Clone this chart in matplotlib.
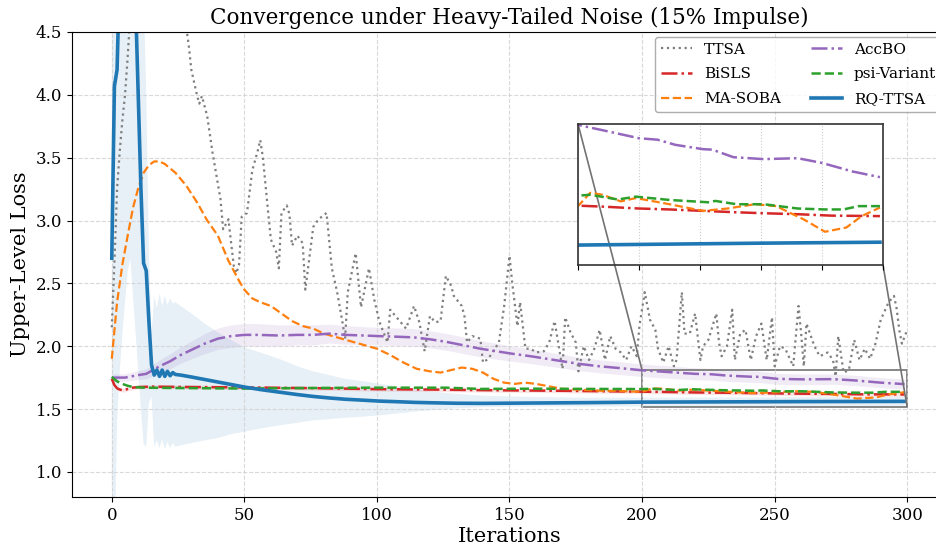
import numpy as np
import matplotlib
matplotlib.use("Agg")
import matplotlib.pyplot as plt
from mpl_toolkits.axes_grid1.inset_locator import mark_inset

plt.rcParams['font.family'] = ['DejaVu Serif']

# ---------------- data ----------------
ttsa_x = [0, 1, 2, 3, 4, 5, 6, 7, 8, 10, 14, 18, 22, 26, 28, 29, 30, 32, 33, 34, 36, 38, 41, 42, 44, 46, 47, 48, 49,
          51, 53, 55, 56, 57, 59, 60, 62, 63, 64, 66, 67, 68, 70, 72, 73, 76, 78, 81, 83, 85, 87, 88, 89, 92, 94,
          97, 99, 101, 104, 105, 107, 109, 111, 114, 116, 118, 120, 122, 124, 126, 128, 129, 132, 133, 134, 136,
          139, 140, 142, 146, 148, 150, 151, 153, 154, 156, 158, 160, 163, 165, 167, 170, 171, 173, 175, 176, 178,
          180, 182, 184, 186, 188, 190, 192, 194, 196, 198, 199, 201, 203, 205, 206, 208, 210, 212, 213, 215, 216,
          218, 220, 222, 223, 225, 228, 229, 230, 232, 234, 235, 237, 239, 241, 243, 245, 247, 249, 250, 252, 254,
          257, 259, 260, 261, 262, 265, 267, 270, 272, 273, 274, 276, 278, 280, 282, 284, 286, 288, 290, 293, 295,
          296, 297, 298, 300]
ttsa_y = [2.15, 2.67, 3.25, 3.55, 3.80, 4.00, 4.30, 4.65, 5.00, 5.40, 5.60, 5.50, 5.20, 4.80, 4.55, 4.40, 4.20,
          4.01, 3.93, 3.99, 3.83, 3.54, 3.17, 2.93, 3.01, 2.64, 2.58, 2.65, 3.03, 3.06, 3.40, 3.55, 3.64, 3.50,
          3.06, 2.85, 2.75, 2.62, 3.06, 3.12, 3.05, 2.80, 2.88, 2.82, 2.45, 2.95, 3.01, 3.06, 2.62, 2.43, 2.19,
          2.06, 2.43, 2.74, 2.31, 2.62, 2.37, 2.19, 2.03, 2.29, 2.24, 2.19, 2.14, 2.32, 2.19, 1.96, 2.24, 2.19,
          2.20, 2.56, 2.48, 2.40, 2.32, 2.24, 2.03, 2.08, 2.06, 1.87, 1.90, 2.03, 2.32, 2.72, 2.51, 2.16, 2.35,
          1.98, 1.98, 1.95, 1.96, 2.03, 2.20, 1.82, 2.23, 2.11, 2.03, 1.80, 2.00, 1.89, 1.98, 2.13, 1.89, 2.08,
          1.98, 1.95, 1.89, 2.00, 1.92, 2.16, 2.43, 2.21, 2.13, 1.98, 1.87, 2.00, 1.84, 1.89, 2.43, 2.10, 2.10,
          2.26, 1.89, 2.00, 2.05, 2.26, 2.03, 1.92, 2.00, 2.29, 1.89, 2.10, 2.13, 1.89, 2.08, 2.18, 1.89, 2.23,
          1.84, 2.00, 1.98, 1.84, 2.32, 2.10, 1.84, 2.18, 2.00, 1.92, 1.95, 1.89, 1.76, 2.08, 1.79, 1.81, 2.05,
          1.89, 1.98, 1.90, 2.02, 2.21, 2.35, 2.40, 2.30, 2.13, 2.02, 2.13]

bisls_x = [0, 1, 2, 3, 4, 5, 6, 8, 10, 15, 30, 50, 80, 100, 120, 140, 170, 200, 208, 220, 230, 241, 252, 261,
           272, 283, 299]
bisls_y = [1.74, 1.69, 1.665, 1.655, 1.65, 1.652, 1.66, 1.67, 1.675, 1.678, 1.675, 1.672, 1.665, 1.658, 1.655,
           1.65, 1.645, 1.638, 1.636, 1.632, 1.630, 1.627, 1.624, 1.622, 1.620, 1.617, 1.616]
bisls_band = 0.015

masoba_x = [0, 2, 4, 6, 8, 10, 12, 14, 16, 18, 20, 24, 28, 32, 36, 40, 44, 48, 50, 53, 56, 60, 64, 68, 72, 76,
            80, 85, 90, 95, 100, 105, 110, 115, 120, 124, 128, 132, 136, 140, 144, 148, 152, 156, 160, 165, 170,
            175, 180, 185, 190, 195, 200, 204, 208, 214, 219, 230, 241, 249, 258, 265, 274, 281, 288, 293, 299]
masoba_y = [1.90, 2.35, 2.65, 2.88, 3.10, 3.26, 3.38, 3.44, 3.47, 3.47, 3.45, 3.38, 3.28, 3.15, 3.00, 2.88, 2.68,
            2.52, 2.45, 2.38, 2.35, 2.32, 2.26, 2.20, 2.16, 2.14, 2.10, 2.07, 2.04, 2.01, 1.98, 1.93, 1.87, 1.82,
            1.80, 1.79, 1.81, 1.83, 1.82, 1.79, 1.74, 1.71, 1.70, 1.71, 1.70, 1.68, 1.66, 1.655, 1.65, 1.645,
            1.645, 1.64, 1.637, 1.665, 1.661, 1.647, 1.654, 1.641, 1.627, 1.632, 1.641, 1.637, 1.609, 1.583,
            1.592, 1.616, 1.634]

accbo_x = [0, 5, 10, 13, 18, 22, 26, 30, 35, 40, 45, 50, 55, 63, 70, 76, 82, 88, 95, 101, 108, 114, 120, 126,
           132, 139, 145, 151, 158, 164, 170, 176, 184, 192, 200, 208, 220, 226, 232, 241, 244, 251, 261, 272,
           280, 290, 299]
accbo_y = [1.75, 1.75, 1.77, 1.78, 1.84, 1.88, 1.93, 1.97, 2.02, 2.06, 2.08, 2.09, 2.09, 2.085, 2.09, 2.09, 2.10,
           2.09, 2.085, 2.08, 2.075, 2.07, 2.055, 2.035, 2.01, 1.98, 1.96, 1.94, 1.92, 1.90, 1.88, 1.86, 1.84,
           1.825, 1.808, 1.797, 1.780, 1.777, 1.766, 1.757, 1.756, 1.740, 1.736, 1.738, 1.728, 1.710, 1.698]
accbo_band = [0.03, 0.03, 0.035, 0.04, 0.05, 0.06, 0.065, 0.07, 0.08, 0.085, 0.09, 0.09, 0.09, 0.085, 0.08,
              0.08, 0.075, 0.075, 0.07, 0.07, 0.07, 0.07, 0.068, 0.067, 0.066, 0.065, 0.063, 0.06, 0.058,
              0.056, 0.055, 0.053, 0.052, 0.051, 0.05, 0.05, 0.048, 0.047, 0.046, 0.045, 0.045, 0.044, 0.043,
              0.042, 0.041, 0.04, 0.04]

psi_x = [0, 2, 4, 6, 8, 12, 20, 50, 80, 100, 126, 139, 160, 180, 200, 204, 213, 219, 230, 243, 245, 252, 261,
         272, 281, 287, 292, 299]
psi_y = [1.755, 1.72, 1.70, 1.685, 1.675, 1.67, 1.668, 1.663, 1.668, 1.67, 1.67, 1.66, 1.662, 1.66, 1.659,
         1.661, 1.651, 1.657, 1.650, 1.645, 1.648, 1.641, 1.641, 1.632, 1.630, 1.630, 1.637, 1.637]

rq_x = [0, 1, 2, 3, 4, 5, 6, 7, 8, 9, 10, 11, 12, 13, 14, 15, 16, 17, 18, 19, 20, 21, 22, 23, 24, 26, 30, 35,
        40, 45, 50, 56, 63, 70, 76, 82, 88, 95, 101, 108, 114, 120, 130, 140, 160, 180, 200, 230, 260, 299]
rq_mean = [2.70, 4.07, 4.20, 5.00, 5.60, 6.10, 6.40, 6.40, 5.80, 4.72, 3.98, 3.25, 2.66, 2.60, 2.20, 1.85, 1.77,
           1.81, 1.76, 1.81, 1.76, 1.80, 1.765, 1.79, 1.775, 1.77, 1.755, 1.735, 1.715, 1.695, 1.675, 1.655,
           1.635, 1.615, 1.600, 1.588, 1.578, 1.570, 1.563, 1.558, 1.553, 1.550, 1.546, 1.545, 1.548, 1.551,
           1.555, 1.557, 1.559, 1.561]
rq_lo = [0.90, 0.30, 1.40, 1.80, 2.10, 2.35, 2.60, 2.70, 2.40, 2.10, 1.80, 1.50, 1.22, 1.20, 1.55, 1.60, 1.20,
         1.25, 1.19, 1.26, 1.18, 1.24, 1.19, 1.23, 1.20, 1.21, 1.23, 1.25, 1.27, 1.30, 1.32, 1.345, 1.37, 1.39,
         1.41, 1.42, 1.43, 1.44, 1.45, 1.465, 1.48, 1.49, 1.505, 1.515, 1.52, 1.52, 1.52, 1.522, 1.524, 1.526]
rq_hi = [4.90, 6.00, 7.00, 8.20, 9.10, 9.85, 10.2, 10.1, 9.20, 7.30, 6.20, 5.00, 4.80, 4.00, 2.75, 2.10, 2.40,
         2.30, 2.42, 2.32, 2.40, 2.33, 2.38, 2.34, 2.35, 2.32, 2.26, 2.18, 2.11, 2.05, 1.99, 1.95, 1.90, 1.84,
         1.80, 1.77, 1.74, 1.72, 1.70, 1.68, 1.66, 1.64, 1.62, 1.605, 1.595, 1.59, 1.59, 1.592, 1.594, 1.596]

x_ticks = [0, 50, 100, 150, 200, 250, 300]
y_ticks = [1.0, 1.5, 2.0, 2.5, 3.0, 3.5, 4.0, 4.5]
zoom_x = (200, 300)
zoom_y = (1.513, 1.81)

# ---------------- figure ----------------
fig = plt.figure(figsize=(9.37, 5.46), dpi=100)
ax = fig.add_axes([72 / 937, 1 - 497 / 546, (947 - 72) / 937, (497 - 32) / 546])

ax.fill_between(rq_x, rq_lo, rq_hi, color='tab:blue', alpha=0.11, lw=0)
accbo_lo = [m - b for m, b in zip(accbo_y, accbo_band)]
accbo_hi = [m + b for m, b in zip(accbo_y, accbo_band)]
ax.fill_between(accbo_x, accbo_lo, accbo_hi, color='tab:purple', alpha=0.13, lw=0)
ax.fill_between(bisls_x, [v - bisls_band for v in bisls_y], [v + bisls_band for v in bisls_y],
                color='tab:red', alpha=0.12, lw=0)

styles = [
    ('TTSA', ttsa_x, ttsa_y, dict(color='#7f7f7f', ls=':', lw=1.6)),
    ('BiSLS', bisls_x, bisls_y, dict(color='tab:red', ls='-.', lw=1.8)),
    ('MA-SOBA', masoba_x, masoba_y, dict(color='tab:orange', ls='--', lw=1.6)),
    ('AccBO', accbo_x, accbo_y, dict(color='tab:purple', ls='-.', lw=1.8)),
    ('psi-Variant', psi_x, psi_y, dict(color='tab:green', ls='--', lw=1.8)),
    ('RQ-TTSA', rq_x, rq_mean, dict(color='tab:blue', ls='-', lw=2.6)),
]
for name, xs, ys, st in styles:
    ax.plot(xs, ys, label=name, **st)

ax.set_xlim(-15, 315)
ax.set_ylim(0.8, 4.5)
ax.set_xticks(x_ticks)
ax.set_yticks(y_ticks)
ax.tick_params(labelsize=12)
ax.grid(True, ls='--', color='#d0d0d0', lw=0.8, alpha=0.8)
ax.set_xlabel('Iterations', fontsize=15, labelpad=2)
ax.set_ylabel('Upper-Level Loss', fontsize=15)
ax.set_title('Convergence under Heavy-Tailed Noise (15% Impulse)', fontsize=15.5, pad=6)

leg = ax.legend(loc='upper right', ncol=2, fontsize=11, frameon=True, columnspacing=2.0,
                handlelength=2.0, labelspacing=0.7, borderaxespad=0.3)
leg.get_frame().set_edgecolor('#999999')

# inset
axins = fig.add_axes([578 / 937, 1 - 265 / 546, (883 - 578) / 937, (265 - 124) / 546])
for name, xs, ys, st in styles:
    if name == 'TTSA':
        continue
    axins.plot(xs, ys, **st)
axins.set_xlim(*zoom_x)
axins.set_ylim(*zoom_y)
axins.set_xticks([200, 220, 240, 260, 280, 300])
axins.set_xticklabels([])
axins.set_yticks([])
axins.grid(True, ls=':', color='#cccccc', lw=0.8)
for sp in axins.spines.values():
    sp.set_color('#333333')
    sp.set_linewidth(1.2)
mark_inset(ax, axins, loc1=2, loc2=4, fc='none', ec='0.45', lw=1.2)

fig.savefig('out.png', dpi=100)
